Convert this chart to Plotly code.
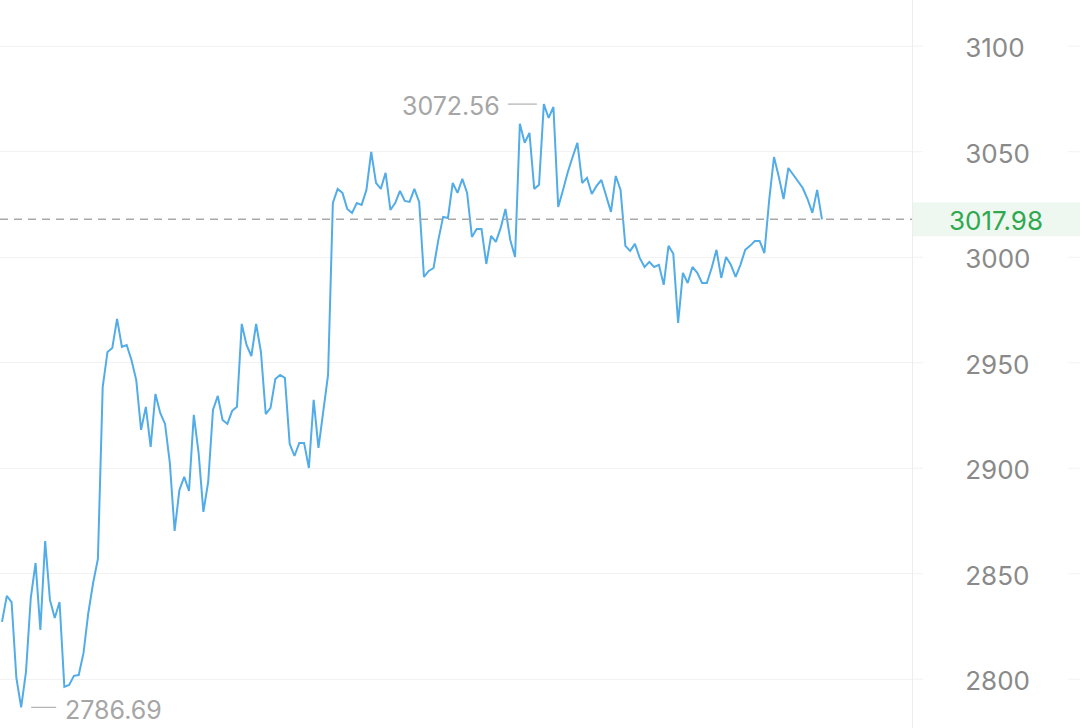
import plotly.graph_objects as go

# --- data (index-based minute series) ---
prices = [
    2827.2, 2839.5, 2836.6, 2800.6, 2786.69, 2803.5, 2838.5, 2855.1, 2823.4, 2865.5,
    2837.6, 2829.0, 2836.6, 2796.4, 2797.3, 2801.6, 2802.0, 2812.5, 2831.4, 2845.6,
    2857.0, 2938.5, 2955.1, 2957.0, 2970.8, 2957.5, 2958.4, 2951.3, 2941.8, 2918.2,
    2929.1, 2910.1, 2935.2, 2926.2, 2921.0, 2902.5, 2870.3, 2889.7, 2895.9, 2889.2,
    2925.3, 2907.3, 2879.3, 2893.5, 2927.6, 2934.3, 2922.9, 2921.0, 2927.2, 2929.1,
    2968.4, 2958.4, 2953.2, 2968.4, 2955.1, 2925.7, 2928.6, 2942.3, 2944.2, 2942.8,
    2911.5, 2905.8, 2912.0, 2912.0, 2900.1, 2932.4, 2909.6, 2927.6, 2944.2, 3025.7,
    3032.4, 3030.5, 3022.9, 3021.0, 3025.7, 3024.8, 3031.9, 3049.9, 3035.2, 3032.4,
    3040.0, 3022.4, 3025.7, 3031.4, 3026.7, 3026.2, 3032.4, 3026.2, 2990.7, 2993.5,
    2994.9, 3008.2, 3019.1, 3018.6, 3035.2, 3030.5, 3037.1, 3030.5, 3009.6, 3013.4,
    3013.4, 2996.8, 3010.1, 3007.3, 3013.9, 3022.9, 3008.2, 3000.1, 3063.2, 3054.2,
    3058.9, 3032.4, 3034.3, 3072.56, 3066.0, 3071.2, 3023.8, 3031.9, 3040.4, 3047.5,
    3054.2, 3035.2, 3037.6, 3030.0, 3033.8, 3036.6, 3029.1, 3021.5, 3038.5, 3031.9,
    3005.4, 3003.0, 3006.3, 2999.7, 2995.4, 2997.8, 2995.4, 2996.4, 2986.9, 3005.4,
    3001.6, 2968.9, 2992.6, 2987.8, 2995.4, 2992.6, 2987.8, 2987.8, 2994.9, 3003.5,
    2990.2, 3000.1, 2996.4, 2990.7, 2996.4, 3003.5, 3005.4, 3007.7, 3007.7, 3002.0,
    3027.2, 3047.5, 3038.1, 3027.6, 3042.3, 3039.0, 3035.7, 3032.8, 3027.6, 3021.0,
    3031.9, 3017.98,
]
x_idx = list(range(len(prices)))
last_price = 3017.98
tick_vals = [2800, 2850, 2900, 2950, 3000, 3050, 3100]
tick_text = ["2800", "2850", "2900", "2950", "3000", "3050", "3100"]

FONT = "Inter"
W, H = 1080, 728
PLOT_R = 912

i_max = max(x_idx, key=lambda i: prices[i])
i_min = min(x_idx, key=lambda i: prices[i])

fig = go.Figure()
fig.add_trace(go.Scatter(
    x=x_idx, y=prices, mode="lines",
    line=dict(color="#52ace8", width=2),
    hoverinfo="skip", showlegend=False,
))

shapes = []
# dashed current price line
shapes.append(dict(type="line", xref="paper", yref="y", x0=0, x1=1, y0=last_price, y1=last_price,
                   line=dict(color="#a8a8a8", width=1.5, dash="8px,6px"), layer="above"))
# current price label background
shapes.append(dict(type="rect", xref="paper", yref="y", x0=1.0, x1=W / PLOT_R,
                   ysizemode="pixel", yanchor=last_price, y0=-17, y1=17,
                   fillcolor="#eef8f1", line=dict(width=0), layer="below"))
# gridline stubs beside the label column
for v in tick_vals:
    for a, b in [(PLOT_R, 923), (1068, W)]:
        shapes.append(dict(type="line", xref="paper", yref="y",
                           x0=a / PLOT_R, x1=b / PLOT_R, y0=v, y1=v,
                           line=dict(color="#f2f2f2", width=1), layer="below"))
# max / min leader lines
shapes.append(dict(type="line", xref="x", yref="y", xsizemode="pixel", xanchor=i_max,
                   x0=-36, x1=-7, y0=prices[i_max], y1=prices[i_max],
                   line=dict(color="#b0b0b0", width=1.2)))
shapes.append(dict(type="line", xref="x", yref="y", xsizemode="pixel", xanchor=i_min,
                   x0=10, x1=35, y0=prices[i_min], y1=prices[i_min],
                   line=dict(color="#b0b0b0", width=1.2)))

annotations = [
    dict(x=i_max, y=prices[i_max], xref="x", yref="y", text=f"{prices[i_max]:.2f}",
         showarrow=False, xanchor="right", xshift=-42, yshift=-2,
         font=dict(family=FONT, size=25, color="#a6a6a6")),
    dict(x=i_min, y=prices[i_min], xref="x", yref="y", text=f"{prices[i_min]:.2f}",
         showarrow=False, xanchor="left", xshift=42, yshift=-3,
         font=dict(family=FONT, size=25, color="#a6a6a6")),
    dict(x=995.5 / PLOT_R, y=last_price, xref="paper", yref="y", text=f"{last_price:.2f}",
         showarrow=False, xanchor="center", yshift=-1,
         font=dict(family=FONT, size=26, color="#2fa84f")),
]

fig.update_layout(
    width=W, height=H,
    margin=dict(l=0, r=W - PLOT_R, t=0, b=0, pad=0),
    paper_bgcolor="white", plot_bgcolor="white",
    shapes=shapes, annotations=annotations,
    xaxis=dict(range=[-2 / 4.795, 910 / 4.795], showgrid=False, zeroline=False,
               showticklabels=False, showline=False, fixedrange=True),
    yaxis=dict(range=[2776.9, 3121.9], side="right", tickvals=tick_vals, ticktext=tick_text,
               showgrid=True, gridcolor="#f2f2f2", gridwidth=1, zeroline=False,
               showline=True, linecolor="#ededed", linewidth=1,
               ticks="", ticklabelstandoff=47, ticklabelshift=2,
               tickfont=dict(family=FONT, size=26, color="#8a8a8a"), fixedrange=True),
)

fig.write_html(
    "out.html",
    config={"displayModeBar": False},
    post_script="document.body.style.margin='0';document.body.style.overflow='hidden';",
)
